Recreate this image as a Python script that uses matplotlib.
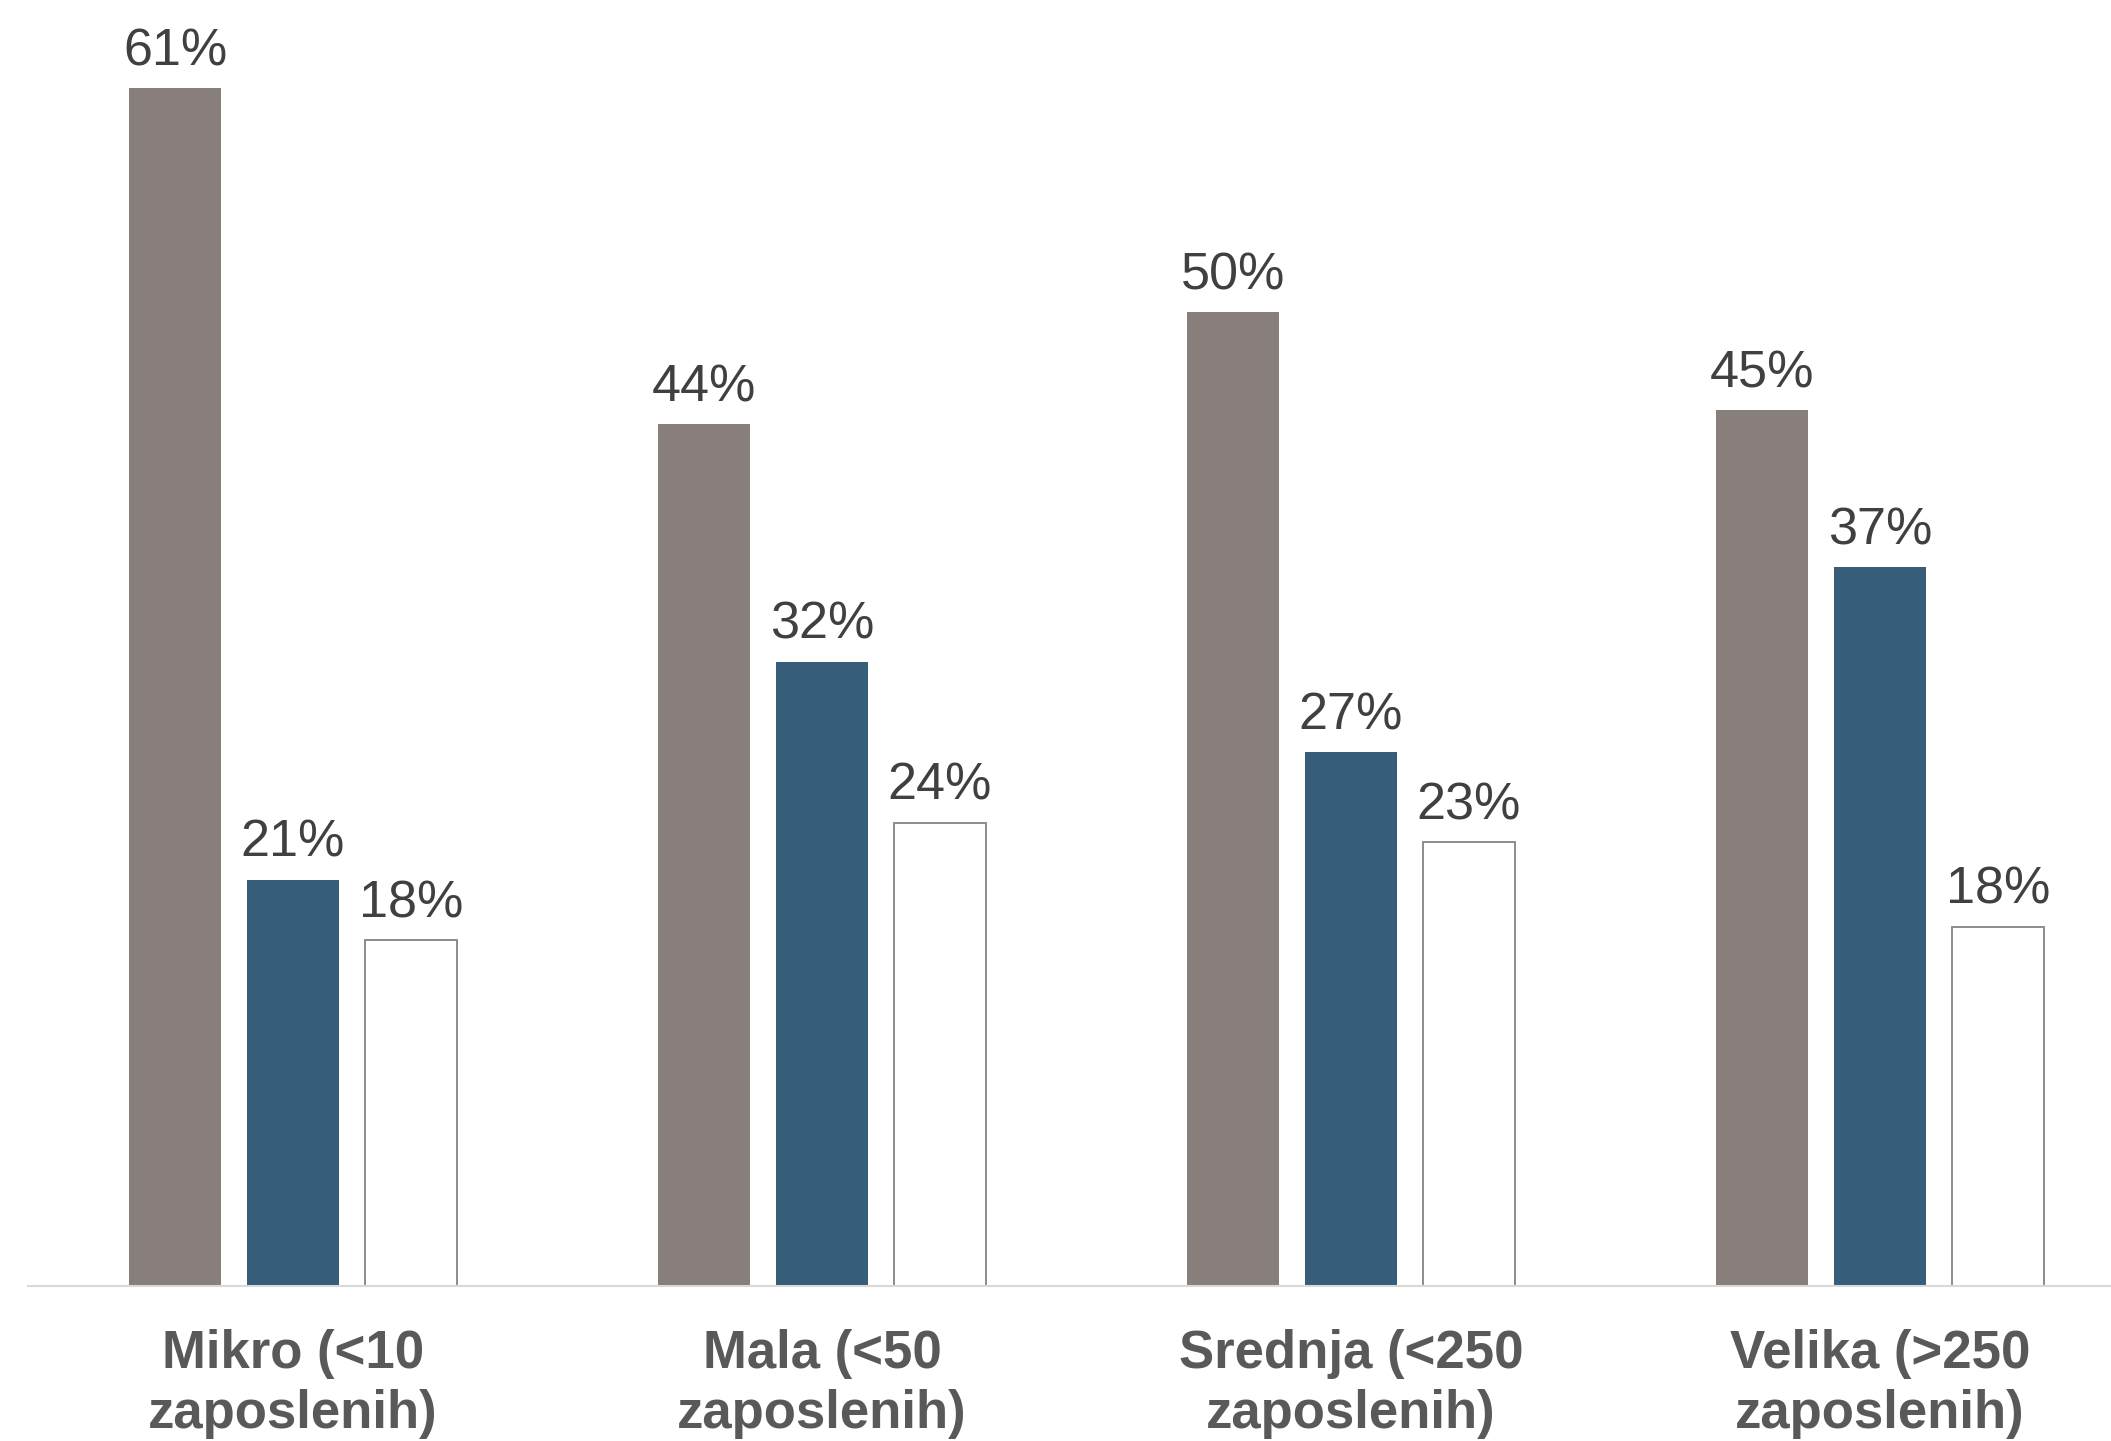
import matplotlib
matplotlib.use("Agg")
import matplotlib.pyplot as plt
import numpy as np

plt.rcParams['font.family'] = ['Liberation Sans', 'DejaVu Sans']

# podaci (ocitano sa slike)
categories = ["Mikro (<10\nzaposlenih)", "Mala (<50\nzaposlenih)",
              "Srednja (<250\nzaposlenih)", "Velika (>250\nzaposlenih)"]
series_1 = [61.0, 43.9, 49.6, 44.6]
series_2 = [20.7, 31.8, 27.2, 36.6]
series_3 = [17.6, 23.6, 22.6, 18.3]

fig = plt.figure(figsize=(21.11, 14.41), dpi=100)
ax = fig.add_axes([28 / 2111, 155 / 1441, 2083 / 2111, 1286 / 1441])

x = np.arange(len(categories))
w = 0.174
step = 0.223

b1 = ax.bar(x - step, series_1, w, color="#887F7C")
b2 = ax.bar(x, series_2, w, color="#365E78")
b3 = ax.bar(x + step, series_3, w, color="white", edgecolor="#8C8C8C", linewidth=1.4)

for bars in (b1, b2, b3):
    for b in bars:
        ax.annotate(f"{b.get_height():.0f}%",
                    (b.get_x() + b.get_width() / 2, b.get_height()),
                    xytext=(0, 16.5), textcoords="offset points",
                    ha="center", va="baseline", fontsize=37.5, color="#404040")

ax.set_xlim(-0.501, 3.437)
ax.set_ylim(0, 65.5)
ax.set_xticks(x)
ax.set_xticklabels(categories, fontsize=38, fontweight="bold", color="#595959",
                   linespacing=1.25)
ax.tick_params(axis="x", length=0, pad=31)
ax.set_yticks([])
for s in ("top", "right", "left"):
    ax.spines[s].set_visible(False)
ax.spines["bottom"].set_color("#D9D9D9")
ax.spines["bottom"].set_linewidth(1.5)

fig.savefig("out.png", dpi=100)
